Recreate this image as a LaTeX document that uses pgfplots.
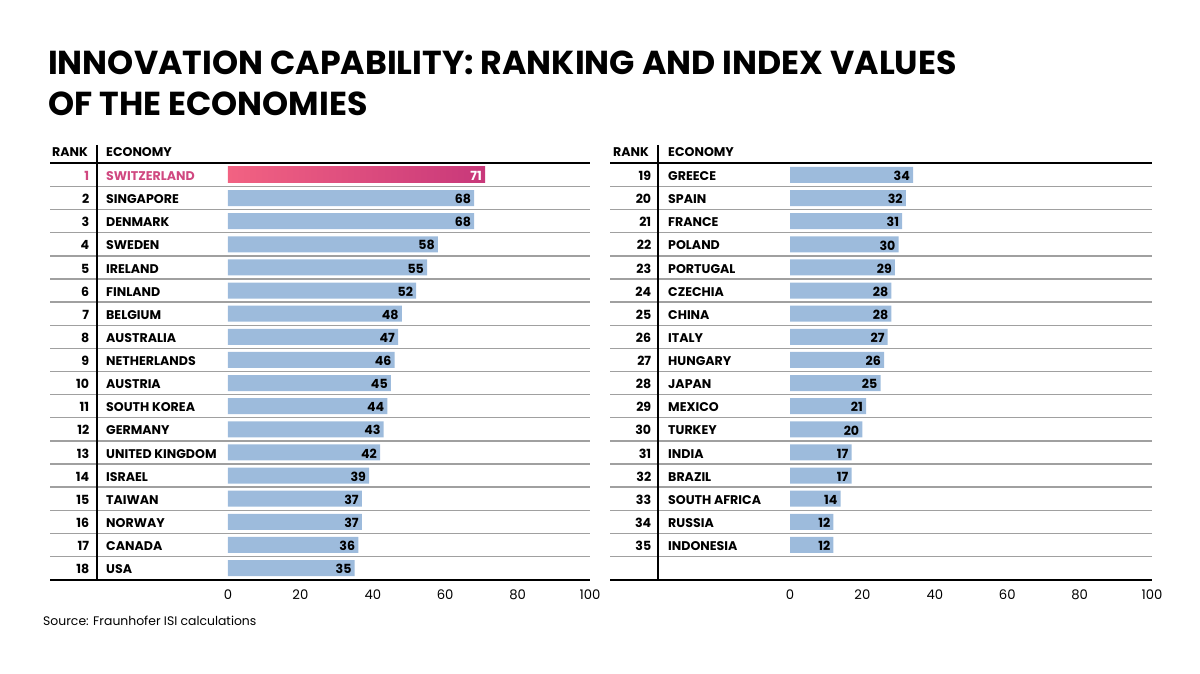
\documentclass[border=0pt]{standalone}
\usepackage{pgfplots}
\pgfplotsset{compat=1.18}
\usepackage{pgfplotstable}
\usepackage{fontspec}
\setmainfont{Poppins}
\definecolor{barblue}{RGB}{157,187,220}
\definecolor{pinkL}{RGB}{242,98,130}
\definecolor{pinkR}{RGB}{200,56,122}
\definecolor{pinktxt}{RGB}{208,72,128}
\definecolor{rowgray}{RGB}{160,160,160}
\newcommand\rk[1]{\llap{#1\hspace{17pt}}}
\newcommand\tabfont{\bfseries\fontsize{12.6}{14}\selectfont}

\pgfplotstableread[col sep=comma]{
r,v
2,68
3,68
4,58
5,55
6,52
7,48
8,47
9,46
10,45
11,44
12,43
13,42
14,39
15,37
16,37
17,36
18,35
}\lefttab

\pgfplotstableread[col sep=comma]{
r,v
1,34
2,32
3,31
4,30
5,29
6,28
7,28
8,27
9,26
10,25
11,21
12,20
13,17
14,17
15,14
16,12
17,12
}\righttab

\pgfplotsset{tabax/.style={
  scale only axis, width=362pt, height=416.2pt,
  xmin=0, xmax=100, ymin=0.5, ymax=18.5, y dir=reverse,
  axis line style={draw=none}, tick style={draw=none},
  xtick={0,20,...,100},
  clip=false,
  /pgf/number format/assume math mode=true,
  xticklabel style={font=\fontsize{13.2}{15}\selectfont, yshift=-7pt},
  yticklabel style={anchor=west, xshift=-122pt, yshift=-1pt, inner sep=0pt, font=\tabfont},
  anchor=south west,
}}

\begin{document}
\begin{tikzpicture}[x=1pt,y=1pt]
\path[use as bounding box] (0pt,0pt) rectangle (1200pt,-674pt);
\node[anchor=base west, inner sep=0pt, font=\bfseries\fontsize{33.2}{40}\selectfont] at (48pt,-75pt) {INNOVATION CAPABILITY: RANKING AND INDEX VALUES};
\node[anchor=base west, inner sep=0pt, font=\bfseries\fontsize{33.2}{40}\selectfont] at (48pt,-116pt) {OF THE ECONOMIES};
\node[anchor=base west, inner sep=0pt, font=\fontsize{12.4}{14}\selectfont] at (43pt,-625pt) {Source: Fraunhofer ISI calculations};

% header
\node[anchor=base east, inner sep=0pt, font=\tabfont] at (88pt,-157pt) {RANK};
\node[anchor=base west, inner sep=0pt, font=\tabfont] at (106pt,-157pt) {ECONOMY};
\node[anchor=base east, inner sep=0pt, font=\tabfont] at (649pt,-157pt) {RANK};
\node[anchor=base west, inner sep=0pt, font=\tabfont] at (668pt,-157pt) {ECONOMY};

\begin{axis}[tabax, at={(228pt,-579.6pt)},
  ytick={1,...,18},
  yticklabels={\textcolor{pinktxt}{\rk{1}SWITZERLAND},\rk{2}SINGAPORE,\rk{3}DENMARK,\rk{4}SWEDEN,\rk{5}IRELAND,\rk{6}FINLAND,\rk{7}BELGIUM,\rk{8}AUSTRALIA,\rk{9}NETHERLANDS,\rk{10}AUSTRIA,\rk{11}SOUTH KOREA,\rk{12}GERMANY,\rk{13}UNITED KINGDOM,\rk{14}ISRAEL,\rk{15}TAIWAN,\rk{16}NORWAY,\rk{17}CANADA,\rk{18}USA}]
\pgfplotsinvokeforeach{1,...,17}{\draw[rowgray, line width=1.3pt] (axis cs:-49.17,#1.5) -- (axis cs:100,#1.5);}
\draw[black, line width=2pt] (axis cs:-49.17,0.5) -- (axis cs:100,0.5);
\draw[black, line width=2pt] (axis cs:-49.17,18.5) -- (axis cs:100,18.5);
\draw[black, line width=1.5pt] (axis cs:-36.19,-0.3) -- (axis cs:-36.19,18.5);
\addplot[xbar, bar width=16pt, bar shift=0pt, draw=none, left color=pinkL, right color=pinkR,
  point meta=x, nodes near coords,
  nodes near coords style={anchor=east, xshift=-2pt, yshift=-1pt, inner sep=1pt, font=\tabfont, text=white}]
  coordinates {(71,1)};
\addplot[xbar, bar width=16pt, bar shift=0pt, draw=none, fill=barblue,
  point meta=x, nodes near coords,
  nodes near coords style={anchor=east, xshift=-2pt, yshift=-1pt, inner sep=1pt, font=\tabfont, text=black}]
  table[x=v, y=r] {\lefttab};
\end{axis}

\begin{axis}[tabax, at={(790pt,-579.6pt)},
  ytick={1,...,17},
  yticklabels={\rk{19}GREECE,\rk{20}SPAIN,\rk{21}FRANCE,\rk{22}POLAND,\rk{23}PORTUGAL,\rk{24}CZECHIA,\rk{25}CHINA,\rk{26}ITALY,\rk{27}HUNGARY,\rk{28}JAPAN,\rk{29}MEXICO,\rk{30}TURKEY,\rk{31}INDIA,\rk{32}BRAZIL,\rk{33}SOUTH AFRICA,\rk{34}RUSSIA,\rk{35}INDONESIA}]
\pgfplotsinvokeforeach{1,...,17}{\draw[rowgray, line width=1.3pt] (axis cs:-49.72,#1.5) -- (axis cs:100,#1.5);}
\draw[black, line width=2pt] (axis cs:-49.72,0.5) -- (axis cs:100,0.5);
\draw[black, line width=2pt] (axis cs:-49.72,18.5) -- (axis cs:100,18.5);
\draw[black, line width=1.5pt] (axis cs:-36.46,-0.3) -- (axis cs:-36.46,18.5);
\addplot[xbar, bar width=16pt, bar shift=0pt, draw=none, fill=barblue,
  point meta=x, nodes near coords,
  nodes near coords style={anchor=east, xshift=-2pt, yshift=-1pt, inner sep=1pt, font=\tabfont, text=black}]
  table[x=v, y=r] {\righttab};
\end{axis}
\end{tikzpicture}
\end{document}
